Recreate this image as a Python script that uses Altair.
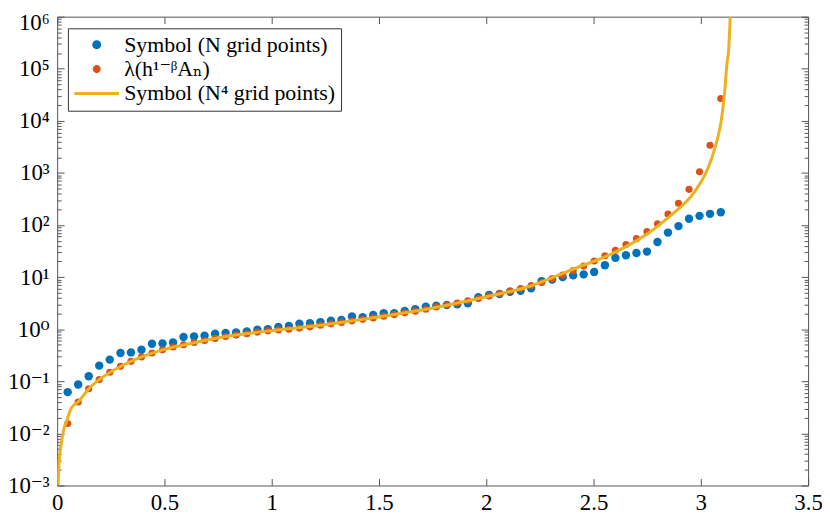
import altair as alt
import pandas as pd

# ---------------- data ----------------
x_pts = [0.049, 0.098, 0.147, 0.196, 0.245, 0.295, 0.344, 0.393, 0.442, 0.491,
         0.540, 0.589, 0.638, 0.687, 0.736, 0.785, 0.834, 0.884, 0.933, 0.982,
         1.031, 1.080, 1.129, 1.178, 1.227, 1.276, 1.325, 1.374, 1.424, 1.473,
         1.522, 1.571, 1.620, 1.669, 1.718, 1.767, 1.816, 1.865, 1.914, 1.963,
         2.013, 2.062, 2.111, 2.160, 2.209, 2.258, 2.307, 2.356, 2.405, 2.454,
         2.503, 2.553, 2.602, 2.651, 2.700, 2.749, 2.798, 2.847, 2.896, 2.945,
         2.994, 3.043, 3.093]

blue_vals = [0.062, 0.087, 0.125, 0.200, 0.261, 0.350, 0.359, 0.404, 0.526, 0.530,
             0.557, 0.707, 0.726, 0.748, 0.817, 0.843, 0.865, 0.904, 0.975, 1.00,
             1.10, 1.15, 1.28, 1.31, 1.37, 1.45, 1.51, 1.75, 1.70, 1.88,
             2.03, 2.03, 2.24, 2.42, 2.71, 2.83, 2.92, 3.01, 3.15, 4.10,
             4.53, 4.74, 5.24, 5.48, 6.09, 8.39, 8.96, 10.0, 10.8, 11.3,
             12.6, 16.9, 23.4, 26.3, 29.1, 30.9, 47.2, 71.6, 95.3, 132,
             150, 164, 176]

orange_vals = [0.0155, 0.040, 0.072, 0.108, 0.149, 0.194, 0.242, 0.294, 0.350, 0.404,
               0.455, 0.504, 0.557, 0.608, 0.665, 0.726, 0.771, 0.817, 0.88, 0.93,
               0.97, 1.00, 1.05, 1.11, 1.19, 1.27, 1.35, 1.45, 1.55, 1.65,
               1.78, 1.91, 2.06, 2.22, 2.42, 2.68, 2.92, 3.19, 3.51, 3.89,
               4.34, 4.84, 5.41, 6.03, 6.9, 7.9, 9.3, 11.0, 13.3, 16.3,
               20.4, 25.7, 32.7, 42.1, 54.8, 75, 106, 163, 262, 484,
               1054, 3406, 26900]

line_x = [0.004, 0.009, 0.02, 0.031, 0.044, 0.067, 0.1, 0.15, 0.2, 0.3, 0.4, 0.5,
          0.6, 0.8, 1.0, 1.2, 1.4, 1.6, 1.8, 2.0, 2.2, 2.4, 2.6, 2.76, 2.851,
          2.905, 2.951, 2.99, 3.021, 3.052, 3.075, 3.095, 3.11, 3.123, 3.129, 3.137]
line_y = [0.001, 0.0028, 0.0067, 0.012, 0.0173, 0.031, 0.041, 0.074, 0.111, 0.197,
          0.30, 0.41, 0.51, 0.74, 0.94, 1.15, 1.50, 2.0, 2.8, 4.2, 6.6, 14.0, 30.0,
          72, 142, 220, 341, 570, 953, 1980, 4120, 9900, 32000, 138000, 215000,
          1000000]

series_names = ["Symbol (N grid points)", "λ(h¹⁻ᵝAₙ)", "Symbol (N⁴ grid points)"]
x_ticks = [0, 0.5, 1, 1.5, 2, 2.5, 3, 3.5]
y_ticks = [1e-3, 1e-2, 1e-1, 1e0, 1e1, 1e2, 1e3, 1e4, 1e5, 1e6]
y_minor = [m * 10.0 ** d for d in range(-3, 6) for m in range(2, 10)]

# ---------------- style ----------------
BLUE, ORANGE, YELLOW = "#0072BD", "#D95319", "#EDB120"
FONT = "'Liberation Serif', 'DejaVu Serif', serif"
FS_TICK = 23
FS_LEG = 22
AX = "#555555"

blue_df = pd.DataFrame({"x": x_pts, "y": blue_vals})
orange_df = pd.DataFrame({"x": x_pts, "y": orange_vals})
line_df = pd.DataFrame({"x": line_x, "y": line_y})
legend_df = pd.DataFrame({"series": series_names, "x": [1.0] * 3, "y": [1.0] * 3})

xscale = alt.Scale(domain=[0, 3.5], nice=False, zero=False)
yscale = alt.Scale(type="log", domain=[1e-3, 1e6], nice=False)

common = dict(domain=False, grid=False, title=None, tickColor=AX, tickWidth=1,
              labelFont=FONT, labelFontSize=FS_TICK, labelColor="black",
              labelFlush=False, labelOverlap=False)

x_bottom = alt.Axis(orient="bottom", values=x_ticks, offset=-7, tickSize=7,
                    labelPadding=6, format="~g", **common)
x_top = alt.Axis(orient="top", values=x_ticks, offset=-7, tickSize=7,
                 labels=False, **common)
sup = "['⁻³','⁻²','⁻¹','⁰','¹','²','³','⁴','⁵','⁶']"
y_left = alt.Axis(orient="left", values=y_ticks, offset=-7, tickSize=7,
                  labelPadding=8,
                  labelOffset={"condition": {"test": "datum.value > 500000", "value": 6},
                               "value": 0},
                  labelExpr="'10' + " + sup + "[round(log(datum.value)/LN10) + 3]",
                  **common)
y_right = alt.Axis(orient="right", values=y_ticks, offset=-7, tickSize=7,
                   labels=False, **common)
y_left_minor = alt.Axis(orient="left", values=y_minor, offset=-4, tickSize=4,
                        labels=False, **common)
y_right_minor = alt.Axis(orient="right", values=y_minor, offset=-4, tickSize=4,
                         labels=False, **common)

blue = alt.Chart(blue_df).mark_circle(color=BLUE, size=72, opacity=1).encode(
    x=alt.X("x:Q", scale=xscale, axis=x_bottom),
    y=alt.Y("y:Q", scale=yscale, axis=y_left),
)
orange = alt.Chart(orange_df).mark_circle(color=ORANGE, size=52, opacity=1).encode(
    x=alt.X("x:Q", scale=xscale, axis=x_top),
    y=alt.Y("y:Q", scale=yscale, axis=y_right),
)
line = alt.Chart(line_df).mark_line(color=YELLOW, strokeWidth=3,
                                    interpolate="monotone", clip=True).encode(
    x=alt.X("x:Q", scale=xscale, axis=None),
    y=alt.Y("y:Q", scale=yscale, axis=y_left_minor),
)

legend = alt.Legend(title=None, orient="none", legendX=10.8, legendY=11.7,
                    padding=5.6, strokeColor="#333333", fillColor="white",
                    labelFont=FONT, labelFontSize=FS_LEG, labelColor="black",
                    labelLimit=0, symbolSize=81, symbolStrokeWidth=3,
                    symbolOffset=12.4, labelOffset=16.7, rowPadding=2.5)

circle_b = "M-1,0A1,1,0,1,1,1,0A1,1,0,1,1,-1,0Z"
circle_o = "M-0.9,0A0.9,0.9,0,1,1,0.9,0A0.9,0.9,0,1,1,-0.9,0Z"
stroke_seg = "M-5,0H5"

leg_layer = alt.Chart(legend_df).mark_point(filled=True, opacity=1, size=81,
                                            strokeWidth=3).encode(
    x=alt.X("x:Q", scale=xscale, axis=None),
    y=alt.Y("y:Q", scale=yscale, axis=y_right_minor),
    fill=alt.Fill("series:N", scale=alt.Scale(domain=series_names,
                                              range=[BLUE, ORANGE, "transparent"]),
                  legend=legend),
    stroke=alt.Stroke("series:N", scale=alt.Scale(domain=series_names,
                                                  range=["transparent", "transparent", YELLOW]),
                      legend=legend),
    shape=alt.Shape("series:N", scale=alt.Scale(domain=series_names,
                                                range=[circle_b, circle_o, stroke_seg]),
                    legend=legend),
).transform_filter("false")

chart = alt.layer(blue, orange, line, leg_layer).resolve_axis(
    x="independent", y="independent"
).properties(
    width=756, height=472, autosize="none",
    padding={"left": 49.5, "top": 7, "right": 14, "bottom": 31},
    background="white",
).configure_view(stroke=AX, strokeWidth=1)

chart.save("out.html", embed_options={"renderer": "svg", "actions": False})
